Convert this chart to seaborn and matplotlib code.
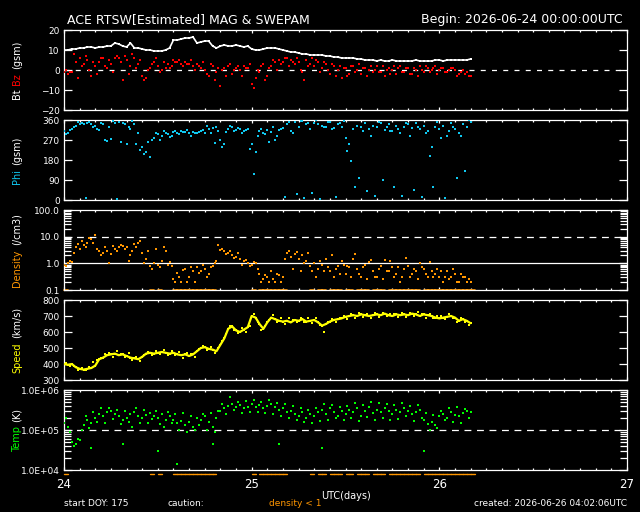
import numpy as np
import pandas as pd
import matplotlib
matplotlib.use("Agg")
import matplotlib.pyplot as plt
import matplotlib.ticker as mticker
import matplotlib.transforms as mtrans
import seaborn as sns

# ---------------- data ----------------
START_DAY = 24
# sample times in hours after start (30-min cadence, plus offset samples at +15 min)
hours_a = np.arange(0, 52.01, 0.5)
hours_b = hours_a[:-1] + 0.25

bt = [10, 10, 10.5, 10.5, 11,
      11, 11.5, 11.5, 11, 11.5,
      11.5, 12, 12, 13.5,
      13, 12, 11.5, 13.5, 11, 11,
      10.5, 10, 10, 9.5, 9.5, 9.5, 10, 11,
      15, 15, 15.5, 16, 16, 16.5,
      13.5, 14, 14.5, 14.5, 12, 11,
      12, 12.5, 12, 12, 12.5, 12, 11.5, 12,
      10.5, 10, 10, 10.5, 11, 11, 11, 10.5,
      10, 9.5, 9, 9, 8.5, 8, 8, 7.5,
      7.5, 7.5, 7.5, 7, 7, 6.5, 6.5, 6,
      6, 6, 6, 5.5, 5.5, 5, 5, 5,
      4.5, 5, 4.5, 4.5, 5, 4.5, 4.5, 4.5,
      4.5, 4.5, 5, 4.5, 4.5, 4.5, 4.5, 5,
      5, 4.5, 5, 5, 5, 5, 5, 5, 5.5]

bz_a = [-1, -2, -1, 4, 6,
        3, 5, -3, 2, 4,
        6, 1, 3, 6,
        6, -5, 5, 2, 6, 3,
        -3, -4, 1, 4, 2, 0, 1, 1,
        5, 4, 3, 4, 3, 2,
        3, 1, 0, -3, 2, -1,
        -8, 1, 2, -2, 1, 0, 2, 1,
        -7, -4, -1, 3, -3, 2, 4, 5,
        4, 6, 5, 3, 4, -1, 5, 3,
        2, 4, 1, 3, -2, 2, 0, -4,
        1, -2, 2, 0, -2, 1, 0, -1,
        2, -1, -3, 1, 0, -2, 2, -1,
        1, -2, 0, 2, -1, 1, 0, 2,
        0, 1, -1, 1, 0, -2, 0, -1, -3]
bz_b = [0, -1, 8, -4, 2,
        7, 0, 4, -2, 6,
        2, 5, -1, 7,
        4, 7, -2, 8, 1, 5,
        -5, 0, 3, 6, -1, 4, 3, 2,
        4, 5, 2, 3, 5, 0,
        2, 4, -2, 3, -5, 1,
        0, -3, 3, 0, 2, -3, 1, 3,
        -9, 0, 2, -5, 1, 5, 0, 3,
        6, 2, 4, 6, 0, -5, 2, 6,
        5, -1, 4, 0, 3, -3, 2, 1,
        -3, 2, -1, 3, 1, -3, 2, 0,
        -1, 2, 0, -2, 2, 1, -1, 1,
        -2, 1, -3, 0, 2, -1, 1, -2,
        1, -1, 0, 1, -3, -1, -2, -3]

phi_a = [310, 300, 320, 335, 340,
         340, 345, 340, 335, 315,
         340, 265, 275, 345,
         350, 345, 250, 320, 340, 300,
         240, 215, 195, 280, 295, 290, 300, 285,
         305, 300, 310, 305, 300, 305,
         300, 310, 300, 320, 325, 330,
         270, 250, 320, 330, 315, 320, 310, 320,
         250, 215, 310, 300, 315, 305, 270, 315,
         325, 340, 310, 350, 330, 355, 340, 320,
         345, 340, 335, 330, 350, 325, 340, 330,
         280, 250, 320, 335, 330, 345, 320, 335,
         330, 345, 315, 340, 310, 335, 300, 330,
         340, 325, 345, 320, 335, 310, 240, 330,
         320, 335, 290, 345, 320, 300, 340, 330, 350]
phi_b = [295, 315, 328, 350, 345,
         10, 350, 330, 320, 345,
         270, 330, 355, 5,
         260, 340, 330, 355, 250, 225,
         205, 260, 270, 300, 270, 310, 295, 290,
         310, 295, 305, 315, 290, 300,
         305, 315, 335, 300, 255, 310,
         240, 305, 335, 310, 325, 300, 315, 230,
         115, 290, 320, 295, 260, 330, 290, 320,
         15, 350, 300, 25, 355, 10, 345, 30,
         360, 5, 330, 350, 320, 15, 345, 355,
         220, 175, 60, 100, 310, 40, 290, 20,
         350, 90, 330, 310, 60, 320, 20, 345,
         290, 45, 330, 15, 300, 200, 60, 350,
         280, 10, 310, 330, 100, 290, 130, 360]

dens_a = [0.9, 1.0, 1.1, 4.0, 3.5,
          5.0, 6.0, 8.0, 12.0, 3.0,
          2.5, 3.0, 2.2, 3.5,
          4.0, 4.5, 4.0, 2.0, 5.5, 6.0,
          2.5, 1.5, 0.8, 1.0, 0.9, 1.2, 3.0, 1.1,
          0.25, 0.45, 0.2, 0.6, 0.3, 0.5,
          0.7, 0.5, 0.6, 0.4, 0.8, 1.2,
          3.2, 2.8, 2.5, 2.0, 1.8, 1.5, 1.2, 1.0,
          0.9, 1.0, 0.4, 0.25, 0.3, 0.5, 0.2, 0.35,
          0.3, 2.5, 1.8, 2.2, 1.5, 2.0, 1.2, 0.8,
          1.0, 0.6, 0.9, 1.5, 0.5, 0.3, 0.8, 1.2,
          0.4, 0.7, 1.5, 0.6, 0.3, 0.9, 1.1, 0.5,
          0.3, 0.8, 1.3, 0.5, 0.7, 0.4, 0.2, 0.6,
          0.8, 0.4, 0.5, 1.0, 0.6, 0.3, 0.5, 0.4,
          0.3, 0.2, 0.5, 0.3, 0.4, 0.2, 0.3, 0.2, 0.2]
dens_b = [0.8, 1.2, 2.5, 5.5, 7.0,
          4.0, 9.0, 6.0, 3.5, 2.0,
          4.0, 1.0, 4.5, 3.0,
          5.0, 3.5, 1.2, 3.0, 4.0, 7.0,
          1.0, 2.8, 0.6, 3.5, 0.7, 4.0, 0.9, 0.8,
          0.2, 0.3, 0.55, 0.2, 0.7, 0.2,
          0.45, 0.9, 0.3, 0.7, 1.0, 5.0,
          3.5, 2.2, 3.0, 1.6, 2.5, 0.9, 1.3, 0.8,
          1.1, 0.6, 0.2, 0.35, 0.2, 0.25, 0.4, 0.2,
          1.5, 3.0, 0.6, 2.6, 0.5, 1.0, 2.4, 0.5,
          0.3, 1.2, 0.5, 0.7, 2.0, 0.6, 0.4, 0.9,
          0.8, 0.3, 2.2, 0.4, 0.7, 0.25, 1.3, 0.3,
          0.6, 0.25, 0.5, 1.2, 0.3, 0.7, 0.3, 1.6,
          0.3, 0.6, 0.25, 0.7, 0.4, 1.1, 0.3, 0.6,
          0.5, 0.3, 0.25, 0.6, 0.2, 0.4, 0.3, 0.25]

speed_a = [400, 395, 400, 380, 370,
           365, 370, 375, 390, 430,
           440, 455, 460, 465,
           455, 460, 450, 440, 435, 430,
           445, 465, 470, 465, 470, 475, 470, 465,
           470, 460, 455, 460, 450, 460,
           480, 500, 505, 495, 490, 480,
           520, 560, 620, 635, 610, 600, 615, 630,
           700, 690, 650, 620, 660, 690, 680, 670,
           665, 670, 660, 675, 670, 680, 665, 670,
           675, 660, 640, 650, 665, 675, 680, 685,
           695, 700, 705, 700, 710, 705, 700, 705,
           710, 705, 715, 705, 700, 710, 705, 710,
           705, 715, 710, 700, 710, 705, 700, 690,
           685, 690, 695, 700, 690, 670, 680, 670, 655]
speed_b = [405, 390, 385, 365, 375,
           360, 380, 415, 425, 440,
           460, 470, 445, 480,
           465, 445, 470, 425, 445, 420,
           455, 475, 455, 480, 460, 490, 455, 480,
           455, 475, 440, 470, 465, 445,
           495, 510, 490, 505, 470, 500,
           545, 590, 640, 610, 595, 625, 600, 640,
           715, 660, 610, 640, 675, 705, 665, 690,
           650, 690, 675, 660, 690, 665, 690, 655,
           690, 645, 600, 660, 680, 665, 690, 700,
           680, 715, 690, 720, 695, 715, 690, 720,
           695, 720, 700, 715, 715, 695, 720, 695,
           720, 700, 725, 710, 690, 715, 685, 700,
           700, 680, 710, 685, 665, 690, 660, 645]

# temperature in units of 1e5 K
temp_a = [1.5, 1.2, 0.5, 0.45, 0.55,
          1.3, 1.8, 1.5, 2.0, 2.5,
          2.2, 2.8, 3.0, 2.5,
          2.2, 1.8, 2.0, 2.5, 2.8, 2.2,
          2.0, 2.4, 2.6, 2.2, 2.0, 2.5, 1.8, 2.2,
          1.8, 1.5, 1.7, 1.3, 1.6, 1.2,
          2.0, 1.8, 2.2, 1.6, 1.2, 2.0,
          3.0, 3.5, 4.0, 4.5, 3.8, 4.2, 3.5, 3.8,
          4.5, 3.8, 4.2, 3.5, 4.0, 4.5, 3.8, 3.2,
          3.5, 2.8, 3.0, 2.5, 2.2, 2.8, 2.0, 2.5,
          2.3, 2.8, 3.2, 2.5, 3.5, 2.8, 2.2, 3.0,
          2.5, 3.2, 2.8, 3.5, 2.2, 3.0, 3.8, 2.6,
          3.2, 2.8, 3.5, 3.0, 2.5, 3.2, 2.8, 3.5,
          3.0, 2.5, 2.8, 3.2, 1.8, 1.4, 1.6, 1.3,
          2.2, 2.5, 2.0, 2.8, 2.4, 2.2, 2.6, 3.0, 2.8]
temp_b = [2.0, 0.9, 0.4, 0.6, 1.0,
          2.2, 1.1, 2.8, 1.6, 3.5,
          1.5, 3.5, 1.9, 3.2,
          1.4, 3.0, 1.6, 1.2, 3.5, 1.5,
          3.2, 1.5, 1.9, 3.0, 1.4, 1.2, 2.8, 1.5,
          2.5, 1.0, 2.6, 0.9, 2.2, 1.0,
          1.3, 2.5, 1.0, 2.6, 0.9, 3.0,
          4.5, 2.5, 6.5, 3.2, 5.0, 2.6, 5.2, 2.8,
          5.5, 2.8, 5.0, 2.6, 5.5, 2.5, 4.8, 2.3,
          4.5, 2.0, 4.0, 1.8, 3.5, 1.6, 3.2, 1.5,
          3.6, 1.7, 4.5, 1.8, 4.2, 2.0, 3.8, 1.8,
          4.0, 2.0, 4.8, 1.7, 4.3, 2.1, 5.0, 1.8,
          4.6, 2.0, 4.5, 1.8, 4.2, 1.9, 4.8, 2.2,
          4.0, 1.7, 4.2, 2.0, 2.6, 1.0, 2.4, 1.1,
          3.0, 1.8, 3.5, 1.6, 3.8, 1.5, 3.4, 2.0]
temp_out_h = [3.5, 7.5, 12.0, 14.5, 19.0, 27.5, 33.0, 46.0]
temp_out = [0.35, 0.45, 0.3, 0.14, 0.45, 0.45, 0.35, 0.3]

# ---------------- styling ----------------
sns.set_theme(style="ticks")
plt.rcParams.update({
    "font.family": ["DejaVu Sans"],
    "figure.facecolor": "black",
    "axes.facecolor": "black",
    "axes.edgecolor": "white",
    "text.color": "white",
    "xtick.color": "white",
    "ytick.color": "white",
    "axes.linewidth": 0.9,
})

W, H = 640, 512
fig = plt.figure(figsize=(6.4, 5.12), dpi=100, facecolor="black")

RED = "#FF0000"
CYAN = "#10C8F0"
ORANGE = "#FF9600"
YELLOW = "#FFFF00"
GREEN = "#00FF00"

TICK_FS = 6.5


def panel(top_px):
    ax = fig.add_axes([64 / W, 1 - (top_px + 80) / H, 563 / W, 80 / H])
    ax.set_facecolor("black")
    for s in ax.spines.values():
        s.set_color("white")
        s.set_linewidth(0.9)
    ax.set_xlim(24, 27)
    ax.xaxis.set_major_locator(mticker.MultipleLocator(1))
    ax.xaxis.set_minor_locator(mticker.MultipleLocator(1 / 12))
    ax.tick_params(axis="x", which="major", direction="in", top=True, bottom=True,
                   length=2.2, width=0.9, colors="white", labelbottom=False, pad=5)
    ax.tick_params(axis="x", which="minor", direction="in", top=True, bottom=True,
                   length=1.1, width=0.9, colors="white")
    ax.tick_params(axis="y", which="major", direction="in", left=True, right=True,
                   length=6, width=0.9, colors="white", labelsize=TICK_FS, pad=3)
    ax.tick_params(axis="y", which="minor", direction="in", left=True, right=True,
                   length=5, width=0.9, colors="white")
    ax.set_xlabel("")
    ax.set_ylabel("")
    return ax


t_a = START_DAY + hours_a / 24
t_b = START_DAY + hours_b / 24


def dots(ax, x, y, color, s=4):
    sns.scatterplot(x=x, y=y, ax=ax, color=color, s=s, marker="s",
                    linewidth=0, legend=False, zorder=3)


# Panel 1: Bt / Bz
ax1 = panel(30)
ax1.set_ylim(-20, 20)
ax1.set_yticks([-20, -10, 0, 10, 20])
ax1.yaxis.set_minor_locator(mticker.NullLocator())
ax1.axhline(0, color="white", lw=0.9, ls=(0, (4, 5)), zorder=1)
dots(ax1, t_a, bz_a, RED)
dots(ax1, t_b, bz_b, RED)
sns.lineplot(x=t_a, y=bt, ax=ax1, color="white", lw=1.2, estimator=None, zorder=4)
dots(ax1, t_a, bt, "white", s=3)

# Panel 2: Phi
ax2 = panel(120)
ax2.set_ylim(0, 360)
ax2.set_yticks([0, 90, 180, 270, 360])
ax2.yaxis.set_minor_locator(mticker.NullLocator())
dots(ax2, t_a, phi_a, CYAN)
dots(ax2, t_b, phi_b, CYAN)

# Panel 3: Density
ax3 = panel(210)
ax3.set_yscale("log")
ax3.set_ylim(0.1, 100)
ax3.yaxis.set_major_locator(mticker.FixedLocator([0.1, 1, 10, 100]))
ax3.yaxis.set_major_formatter(mticker.FixedFormatter(["0.1", "1.0", "10.0", "100.0"]))
ax3.yaxis.set_minor_locator(mticker.LogLocator(base=10, subs=np.arange(2, 10)))
ax3.yaxis.set_minor_formatter(mticker.NullFormatter())
ax3.axhline(10, color="white", lw=0.9, ls=(0, (5.5, 4.5)), zorder=1)
ax3.axhline(1, color="white", lw=0.9, zorder=1)
dots(ax3, t_a, dens_a, ORANGE)
dots(ax3, t_b, dens_b, ORANGE)

# Panel 4: Speed
ax4 = panel(300)
ax4.set_ylim(300, 800)
ax4.set_yticks([300, 400, 500, 600, 700, 800])
ax4.yaxis.set_minor_locator(mticker.NullLocator())
sns.lineplot(x=t_a, y=speed_a, ax=ax4, color=YELLOW, lw=1.6, estimator=None, zorder=3)
dots(ax4, t_a, speed_a, YELLOW)
dots(ax4, t_b, speed_b, YELLOW)

# Panel 5: Temperature
ax5 = panel(390)
ax5.set_yscale("log")
ax5.set_ylim(1e4, 1e6)
ax5.yaxis.set_major_locator(mticker.FixedLocator([1e4, 1e5, 1e6]))
ax5.yaxis.set_major_formatter(mticker.FixedFormatter(["1.0E+04", "1.0E+05", "1.0E+06"]))
ax5.yaxis.set_minor_locator(mticker.LogLocator(base=10, subs=np.arange(2, 10)))
ax5.yaxis.set_minor_formatter(mticker.NullFormatter())
ax5.axhline(1e5, color="white", lw=0.9, ls=(0, (5.5, 4.5)), zorder=1)
dots(ax5, t_a, np.array(temp_a) * 1e5, GREEN)
dots(ax5, t_b, np.array(temp_b) * 1e5, GREEN)
dots(ax5, START_DAY + np.array(temp_out_h) / 24, np.array(temp_out) * 1e5, GREEN)

ax5.set_xticks([24, 25, 26, 27])
ax5.set_xticklabels(["24", "25", "26", "27"])
ax5.tick_params(axis="x", which="major", labelbottom=True, labelsize=8.5, pad=6)

# density < 1 caution markers (below temp panel and at density floor)
low = np.array(dens_a) < 1
seg_x = []
for h, flag in zip(hours_a, low):
    if flag:
        seg_x += [START_DAY + h / 24, START_DAY + (h + 0.5) / 24, np.nan]
tr5 = mtrans.blended_transform_factory(ax5.transData, ax5.transAxes)
tr3 = mtrans.blended_transform_factory(ax3.transData, ax3.transAxes)
ax5.plot(seg_x, [-0.05 if not np.isnan(v) else np.nan for v in seg_x], color=ORANGE,
         lw=1.0, transform=tr5, clip_on=False)
ax3.plot(seg_x, [0.006 if not np.isnan(v) else np.nan for v in seg_x], color=ORANGE,
         lw=1.2, transform=tr3, clip_on=False)

# ---------------- text ----------------
fig.text(67 / W, 1 - 20 / H, "ACE RTSW[Estimated] MAG & SWEPAM", fontsize=9,
         ha="left", va="center", color="white")
fig.text(623 / W, 1 - 20 / H, "Begin: 2026-06-24 00:00:00UTC", fontsize=9,
         ha="right", va="center", color="white")
fig.text(345.5 / W, 1 - 496 / H, "UTC(days)", fontsize=7, ha="center", va="center",
         color="white")
fig.text(64 / W, 1 - 504 / H, "start DOY: 175", fontsize=6.5, ha="left", va="center",
         color="white")
fig.text(167 / W, 1 - 504 / H, "caution:", fontsize=6.5, ha="left", va="center",
         color="white")
fig.text(269 / W, 1 - 504 / H, "density < 1", fontsize=6.5, ha="left", va="center",
         color=ORANGE)
fig.text(627 / W, 1 - 504 / H, "created: 2026-06-26 04:02:06UTC", fontsize=6.5,
         ha="right", va="center", color="white")

renderer = fig.canvas.get_renderer()


def multicolor_ylabel(center_px, parts, x_px=17, fs=7, gap=4):
    texts = [fig.text(x_px / W, 0, s, rotation=90, color=c, fontsize=fs,
                      ha="center", va="bottom") for s, c in parts]
    heights = [t.get_window_extent(renderer).height for t in texts]
    total = sum(heights) + gap * (len(parts) - 1)
    y = (H - center_px) - total / 2
    for t, h in zip(texts, heights):
        t.set_position((x_px / W, y / H))
        y += h + gap


multicolor_ylabel(70, [("Bt", "white"), ("Bz", RED), ("(gsm)", "white")])
multicolor_ylabel(160, [("Phi", CYAN), ("(gsm)", "white")])
multicolor_ylabel(250, [("Density", ORANGE), ("(/cm3)", "white")])
multicolor_ylabel(340, [("Speed", YELLOW), ("(km/s)", "white")])
multicolor_ylabel(430, [("Temp", GREEN), ("(K)", "white")])

fig.savefig("out.png", dpi=100, facecolor="black")
